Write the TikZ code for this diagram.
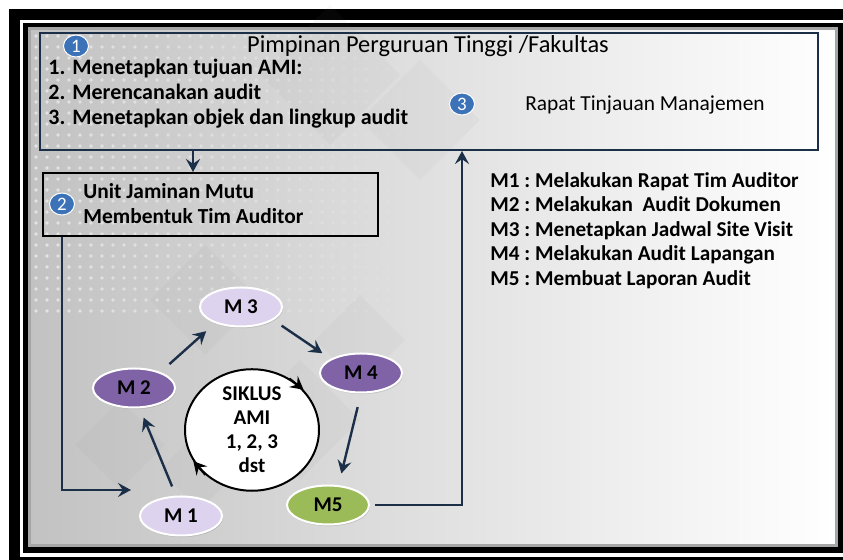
\documentclass[tikz,border=0pt]{standalone}
\usepackage{fontspec}
\setmainfont{Carlito}
\frenchspacing
\usetikzlibrary{calc,arrows.meta,positioning,shapes.geometric,shadows}

\begin{document}
\begin{tikzpicture}[x=0.5pt, y=-0.5pt, >={Stealth[length=6.5pt, width=7pt, inset=2.4pt]}]
    % Colors
    \definecolor{navyCol}{HTML}{1B3048}
    \definecolor{badgeCol}{HTML}{3C73B8}
    \definecolor{lilacCol}{HTML}{DDD3EE}
    \definecolor{purpleCol}{HTML}{7F63A6}
    \definecolor{greenCol}{HTML}{9BBB59}
    \definecolor{paperCol}{HTML}{C2C2C2}

    \tikzset{
        badge/.style={ellipse, fill=badgeCol, draw=white, line width=0.5pt, text=white, inner sep=0pt,
            minimum width=12.5pt, minimum height=11pt, font=\fontsize{9.5}{9.5}\selectfont},
        stage/.style={ellipse, draw=white, line width=1pt, minimum width=41pt, minimum height=19.5pt, inner sep=0pt,
            font=\bfseries\fontsize{10.5}{10.5}\selectfont, drop shadow={opacity=0.3, shadow xshift=0.5pt, shadow yshift=-0.8pt}},
        flow/.style={->, line width=1.2pt, navyCol},
        task/.style={anchor=base west, font=\bfseries\fontsize{11}{13}\selectfont, inner sep=0pt},
        legend/.style={anchor=base west, font=\bfseries\fontsize{10.6}{12}\selectfont, inner sep=0pt}
    }
    \useasboundingbox (0,0) rectangle (843,560);

    % 1. Frame & background
    \fill[black] (9,9) rectangle (843,560);
    \fill[white] (20,20) rectangle (843,557);
    \fill[black] (23,23) rectangle (843,553);
    \shade[left color=paperCol, right color=white] (28,28) rectangle (837,547);
    \draw[gray!70, line width=1.5pt] (29,29) rectangle (836,546);
    \foreach \cx/\cy/\s in {330/75/70, 420/120/60, 205/300/55, 360/340/45, 120/445/45, 200/470/40, 300/420/60} {
        \fill[gray, opacity=0.05] (\cx,\cy-\s) -- (\cx+\s,\cy) -- (\cx,\cy+\s) -- (\cx-\s,\cy) -- cycle;
    }
    \foreach \px in {36,47,...,430} {
        \foreach \py in {36,47,...,320} {
            \pgfmathsetmacro{\dotOp}{0.6*(1-\px/440)}
            \fill[white, opacity=\dotOp] (\px,\py) circle (0.9pt);
        }
    }

    % 2. Leadership box
    \node[draw=navyCol, line width=1pt, minimum width=389pt, minimum height=58.5pt, inner sep=0pt] (lead) at (429,91.5) {};
    \node[badge] (b1) at (76,46) {1};
    \node[font=\fontsize{12.2}{14}\selectfont] (leadTitle) at (428,46) {Pimpinan Perguruan Tinggi /Fakultas};
    \foreach \txt [count=\i] in {Menetapkan tujuan AMI:, Merencanakan audit, Menetapkan objek dan lingkup audit} {
        \node[task] (num\i) at (48, {50+25*\i}) {\i.};
        \node[task] (task\i) at (72, {50+25*\i}) {\txt};
    }
    \node[badge] (b3) at (462,104) {3};
    \node[font=\fontsize{10.7}{12}\selectfont] (rtm) at (645,105) {Rapat Tinjauan Manajemen};

    % 3. Quality unit box
    \node[draw=black, line width=1pt, minimum width=167.5pt, minimum height=31.5pt, inner sep=0pt] (ujm) at (210.5,204.5) {};
    \node[badge] (b2) at (62,204) {2};
    \node[anchor=west, align=left, inner sep=0pt, font=\bfseries\fontsize{10.7}{12.5}\selectfont] (ujmText) at (83,204) {Unit Jaminan Mutu\\Membentuk Tim Auditor};

    % 4. Audit cycle
    \node[ellipse, draw=black, fill=white, line width=1pt, minimum width=67pt, minimum height=58pt, inner sep=0pt,
        align=center, font=\bfseries\fontsize{10.5}{12}\selectfont] (siklus) at (252,430) {SIKLUS\\AMI\\1, 2, 3\\dst};
    \draw[->, line width=1pt, black] (siklus.54) -- (siklus.38);
    \draw[->, line width=1pt, black] (siklus.224) -- (siklus.208);

    \node[stage, fill=lilacCol] (m3) at (241,307) {M 3};
    \node[stage, fill=purpleCol] (m2) at (134,388) {M 2};
    \node[stage, fill=purpleCol] (m4) at (361,373) {M 4};
    \node[stage, fill=lilacCol] (m1) at (181,516) {M 1};
    \node[stage, fill=greenCol] (m5) at (328,505) {M5};

    \draw[flow, shorten <=5pt, shorten >=5pt] (m1.104) -- (m2.-74);
    \draw[flow, shorten <=6pt, shorten >=6pt] (m2.31) -- (m3.212);
    \draw[flow, shorten <=5pt, shorten >=5pt] (m3.-22) -- (m4.155);
    \draw[flow, shorten <=7pt, shorten >=6pt] (m4.south) -- (m5.62);

    % 5. Flow between levels
    \coordinate (dropX) at (193,0);
    \coordinate (feedX) at (62,0);
    \coordinate (riseX) at (462,0);
    \coordinate (m1in) at (131,490);
    \draw[flow] (lead.south -| dropX) -- (ujm.north -| dropX);
    \draw[flow] (ujm.south -| feedX) |- (m1in);
    \draw[flow, shorten <=2.5pt] (m5.east) -| (lead.south -| riseX);

    % 6. Legend
    \foreach \txt [count=\i] in {M1 : Melakukan Rapat Tim Auditor, M2 : Melakukan~ Audit Dokumen,
        M3 : Menetapkan Jadwal Site Visit, M4 : Melakukan Audit Lapangan, M5 : Membuat Laporan Audit} {
        \node[legend] (key\i) at (490, {163+24.5*\i}) {\txt};
    }
\end{tikzpicture}
\end{document}
